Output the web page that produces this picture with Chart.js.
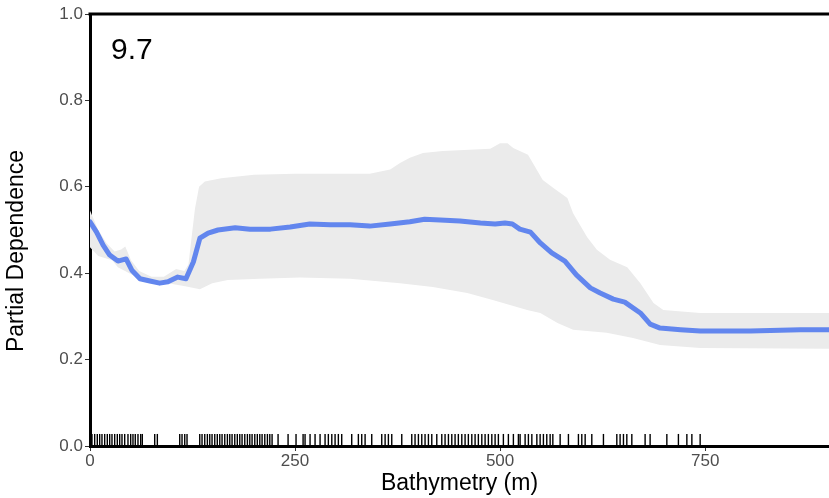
<!DOCTYPE html>
<html>
<head>
<meta charset="utf-8">
<script src="https://cdn.jsdelivr.net/npm/chart.js@4/dist/chart.umd.min.js"></script>
<style>
  html, body { margin: 0; padding: 0; background: #fff; }
  #wrap { width: 829px; height: 498px; }
</style>
</head>
<body>
<div id="wrap"><canvas id="c" width="829" height="498"></canvas></div>
<script>
// ---- data ----
const lineX = [0, 8, 16, 24, 34, 44, 51, 61, 73, 85, 95, 107, 117, 126, 134, 144, 156, 177, 195, 220, 244, 268, 293, 317, 341, 366, 390, 408, 427, 451, 476, 494, 506, 515, 524, 537, 549, 563, 579, 593, 610, 622, 638, 652, 671, 683, 695, 720, 744, 805, 866, 901];
const lineY = [0.519, 0.495, 0.465, 0.442, 0.428, 0.433, 0.407, 0.387, 0.382, 0.377, 0.380, 0.391, 0.387, 0.426, 0.481, 0.493, 0.500, 0.505, 0.502, 0.502, 0.507, 0.514, 0.512, 0.512, 0.509, 0.514, 0.519, 0.525, 0.523, 0.521, 0.516, 0.514, 0.516, 0.514, 0.502, 0.495, 0.470, 0.447, 0.428, 0.396, 0.366, 0.354, 0.340, 0.333, 0.308, 0.282, 0.273, 0.269, 0.266, 0.266, 0.269, 0.269];

const upperX = [0, 10, 20, 30, 38, 43, 50, 60, 75, 90, 105, 115, 120, 128, 133, 140, 160, 200, 250, 300, 341, 366, 378, 390, 406, 430, 488, 500, 509, 516, 534, 552, 565, 582, 589, 606, 618, 634, 655, 671, 687, 699, 744, 901];
const upperY = [0.545, 0.500, 0.470, 0.450, 0.455, 0.462, 0.430, 0.405, 0.392, 0.392, 0.410, 0.405, 0.420, 0.550, 0.600, 0.612, 0.620, 0.628, 0.630, 0.630, 0.630, 0.640, 0.655, 0.667, 0.678, 0.683, 0.688, 0.701, 0.701, 0.690, 0.674, 0.616, 0.597, 0.574, 0.539, 0.484, 0.454, 0.431, 0.414, 0.377, 0.331, 0.315, 0.308, 0.308];

const lowerX = [0, 10, 27, 34, 59, 95, 116, 134, 149, 168, 207, 256, 317, 378, 418, 460, 491, 533, 549, 570, 589, 630, 662, 695, 744, 901];
const lowerY = [0.460, 0.440, 0.430, 0.414, 0.389, 0.377, 0.370, 0.363, 0.377, 0.384, 0.387, 0.390, 0.387, 0.377, 0.368, 0.354, 0.338, 0.315, 0.308, 0.285, 0.269, 0.262, 0.250, 0.234, 0.227, 0.225];

const rugX = [2.4, 5.7, 8.9, 11.8, 14.6, 17.9, 21.1, 24.0, 26.8, 30.1, 33.3, 36.2, 39.0, 42.3, 46.3, 49.6, 52.4, 55.2, 58.5, 61.8, 63.8,
  78.9, 82.1, 109.4, 112.2, 115.5, 118.3,
  133.8, 136.6, 139.9, 143.1, 146.0, 148.8, 152.1, 155.2, 158.2, 161.0, 164.3, 167.5, 170.4, 173.2, 176.5, 179.6, 182.6, 185.4, 188.7, 191.9, 194.8, 197.6, 200.9, 204.0, 207.0, 209.8, 213.1, 216.3, 219.2, 222.0,
  229.3, 241.5, 251.2, 259.8,
  262.2, 268.3, 274.4, 280.5, 286.6, 290.6, 294.8, 298.8, 302.8, 306.9, 319.1, 327.2, 331.3, 335.4, 343.5, 355.7, 359.8, 363.8, 367.9, 380.1, 392.3, 396.3, 400.4, 404.5, 408.5, 412.6, 416.7, 422.8, 428.9, 432.9, 437.0, 441.1, 445.1, 449.1, 453.3, 457.3, 461.3, 465.5, 469.5, 473.5, 477.7, 481.7, 485.7, 489.9, 493.9, 497.9, 504.0, 510.1, 516.2, 522.3,
  524.4, 530.5, 534.5, 538.7, 544.8, 548.8, 552.8, 556.9, 561.0, 564.3, 573.2, 583.3, 595.5, 599.6, 603.7, 611.8, 626.0, 642.3, 646.3, 650.4, 654.5, 660.6, 676.8, 682.9, 703.3, 717.4, 727.7, 733.8, 743.9];

const xTicks = [0, 250, 500, 750];
const yTicks = [0, 0.2, 0.4, 0.6, 0.8, 1.0];
const xMax = 901;
const panelLabel = "9.7";
const xTitle = "Bathymetry (m)";
const yTitle = "Partial Dependence";

// ---- build ----
const pts = (xs, ys) => xs.map((x, i) => ({ x: x, y: ys[i] }));
const rugPts = rugX.map(x => ({ x: x, y: 0.014 }));

const FONT = "'Liberation Sans', Arial, sans-serif";

const framePlugin = {
  id: 'frame',
  afterDatasetsDraw(chart) {
    const { ctx, chartArea } = chart;
    ctx.save();
    ctx.strokeStyle = '#000';
    ctx.lineWidth = 3;
    ctx.beginPath();
    ctx.moveTo(chartArea.left - 1.5, chartArea.top);
    ctx.lineTo(chartArea.right, chartArea.top);
    ctx.stroke();
    ctx.fillStyle = '#000';
    ctx.font = "30px " + FONT;
    ctx.textBaseline = 'alphabetic';
    ctx.textAlign = 'left';
    ctx.fillText(panelLabel, chartArea.left + 21, chartArea.top + 45);
    // y axis title
    ctx.font = "23px " + FONT;
    ctx.textAlign = 'center';
    ctx.textBaseline = 'middle';
    ctx.translate(17, 251);
    ctx.rotate(-Math.PI / 2);
    ctx.fillText(yTitle, 0, 0);
    ctx.restore();
  }
};

new Chart(document.getElementById('c'), {
  type: 'line',
  data: {
    datasets: [
      {
        label: 'pd',
        data: pts(lineX, lineY),
        borderColor: 'rgb(98,134,238)',
        borderWidth: 5,
        pointRadius: 0,
        tension: 0,
        fill: false,
        borderJoinStyle: 'round',
        borderCapStyle: 'round'
      },
      {
        label: 'rug',
        type: 'scatter',
        data: rugPts,
        pointStyle: 'line',
        rotation: 90,
        radius: 6,
        pointRadius: 6,
        borderColor: '#000',
        borderWidth: 1.4,
        backgroundColor: '#000',
        showLine: false
      },
      {
        label: 'upper',
        data: pts(upperX, upperY),
        borderWidth: 0,
        borderColor: 'rgba(0,0,0,0)',
        pointRadius: 0,
        tension: 0,
        fill: '+1',
        backgroundColor: '#ebebeb'
      },
      {
        label: 'lower',
        data: pts(lowerX, lowerY),
        borderWidth: 0,
        borderColor: 'rgba(0,0,0,0)',
        pointRadius: 0,
        tension: 0,
        fill: false
      }
    ]
  },
  options: {
    responsive: false,
    animation: false,
    events: [],
    layout: { autoPadding: false, padding: { top: 14, right: 0, left: 0, bottom: 0 } },
    plugins: {
      legend: { display: false },
      tooltip: { enabled: false },
      title: { display: false }
    },
    scales: {
      x: {
        type: 'linear',
        min: 0,
        max: xMax,
        afterFit(s) { s.height = 52; s.paddingLeft = 0; s.paddingRight = 0; },
        afterBuildTicks(s) { s.ticks = xTicks.map(v => ({ value: v })); },
        border: { display: true, color: '#000', width: 3 },
        grid: { display: true, drawOnChartArea: false, drawTicks: true, tickLength: 5, color: '#333', lineWidth: 1 },
        ticks: {
          color: '#4d4d4d',
          font: { family: FONT, size: 17 },
          padding: 0,
          maxRotation: 0,
          callback: v => String(v)
        },
        title: {
          display: true,
          text: xTitle,
          color: '#000',
          font: { family: FONT, size: 23 },
          padding: { top: 0, bottom: 1 }
        }
      },
      y: {
        type: 'linear',
        min: 0,
        max: 1,
        afterFit(s) { s.width = 90; s.paddingTop = 0; s.paddingBottom = 0; },
        afterBuildTicks(s) { s.ticks = yTicks.map(v => ({ value: v })); },
        border: { display: true, color: '#000', width: 3 },
        grid: { display: true, drawOnChartArea: false, drawTicks: true, tickLength: 5, color: '#333', lineWidth: 1 },
        ticks: {
          color: '#4d4d4d',
          font: { family: FONT, size: 17 },
          padding: 2,
          callback: v => Number(v).toFixed(1)
        },
        title: { display: false }
      }
    }
  },
  plugins: [framePlugin]
});
</script>
</body>
</html>
